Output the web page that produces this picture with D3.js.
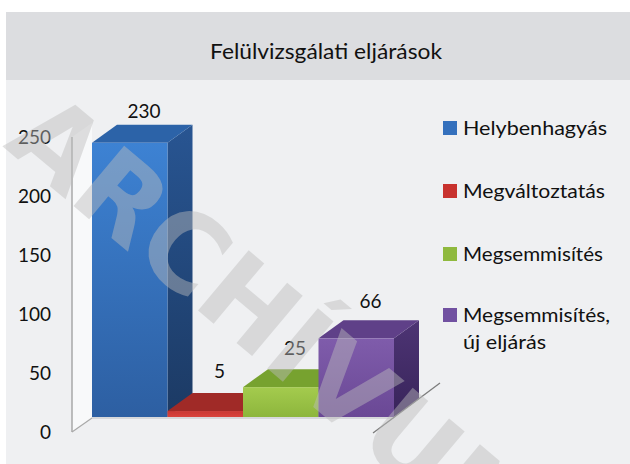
<!DOCTYPE html>
<html>
<head>
<meta charset="utf-8">
<script src="https://cdn.jsdelivr.net/npm/d3@7"></script>
<style>
  body { margin: 0; background: #fff; }
  svg { display: block; }
</style>
</head>
<body>
<svg id="chart" width="630" height="464"></svg>
<script>
// data
let categories = ["Helybenhagyás", "Megváltoztatás", "Megsemmisítés", "Megsemmisítés, új eljárás"];
let legendLines = [["Helybenhagyás"], ["Megváltoztatás"], ["Megsemmisítés"], ["Megsemmisítés,", "új eljárás"]];
let values = [230, 5, 25, 66];
let yTicks = [0, 50, 100, 150, 200, 250];
let chartTitle = "Felülvizsgálati eljárások";
let watermarkText = "ARCHÍVUM";

// face colours per bar: front top, front bottom, side top, side bottom, top face, legend
let palette = [
    {ft: "#3d82d3", fb: "#2d5fa2", st: "#285592", sb: "#1c3a64", tp: "#2c63a8", lg: "#3470bd"},
    {ft: "#c93733", fb: "#d9443e", st: "#8e2522", sb: "#7a1f1d", tp: "#a02a27", lg: "#c8322e"},
    {ft: "#a4cb4e", fb: "#8db63c", st: "#6c9329", sb: "#5b7d22", tp: "#77a22f", lg: "#8fb93e"},
    {ft: "#7f5cab", fb: "#6a4895", st: "#4d3474", sb: "#38245a", tp: "#5f4088", lg: "#7151a1"}
];

const svg = d3.select("#chart");
const width = 630, height = 464;
const fontFam = "Lato, 'Open Sans', sans-serif";

const depthX = 25, depthY = -18;

const xScale = d3.scaleBand().domain(categories).range([92, 394]).padding(0);
const yAxisScale = d3.scaleLinear().domain([0, 250]).range([432, 137]);
const yBarScale = d3.scaleLinear().domain([0, 250]).range([417, 119]);
// label baselines follow the perspective a bit differently from the bar faces
const yLabelScale = d3.scaleLinear().domain([0, 250]).range([384, 95]);

const defs = svg.append("defs");
palette.forEach((p, i) => {
    let g1 = defs.append("linearGradient").attr("id", "front" + i)
        .attr("x1", 0).attr("y1", 0).attr("x2", 0).attr("y2", 1);
    g1.append("stop").attr("offset", "0%").attr("stop-color", p.ft);
    g1.append("stop").attr("offset", "100%").attr("stop-color", p.fb);
    let g2 = defs.append("linearGradient").attr("id", "side" + i)
        .attr("x1", 0).attr("y1", 0).attr("x2", 0).attr("y2", 1);
    g2.append("stop").attr("offset", "0%").attr("stop-color", p.st);
    g2.append("stop").attr("offset", "100%").attr("stop-color", p.sb);
});

// backgrounds
svg.append("rect").attr("width", width).attr("height", height).attr("fill", "#ffffff");
svg.append("rect").attr("x", 6).attr("y", 12).attr("width", width - 6).attr("height", 68).attr("fill", "#dcdde0");
svg.append("rect").attr("x", 6).attr("y", 80).attr("width", width - 6).attr("height", height - 80).attr("fill", "#eff0f2");

svg.append("text")
    .attr("x", 326).attr("y", 59)
    .attr("text-anchor", "middle")
    .attr("font-family", fontFam)
    .attr("font-size", 22)
    .attr("fill", "#111")
    .attr("textLength", 232).attr("lengthAdjust", "spacingAndGlyphs")
    .text(chartTitle);

// left wall + axis
const x0 = xScale.range()[0];
const axisX = x0 - 20;
const pts = a => a.map(p => p.join(",")).join(" ");

svg.append("polygon")
    .attr("points", pts([[axisX, yAxisScale(250)], [x0, yAxisScale(250) - 14], [x0, yBarScale(0) + 1], [axisX, yAxisScale(0)]]))
    .attr("fill", "#f8f9fa");
svg.append("line")
    .attr("x1", axisX).attr("x2", axisX)
    .attr("y1", yAxisScale(250)).attr("y2", yAxisScale(0))
    .attr("stroke", "#a9a9a9").attr("stroke-width", 1.5);
svg.append("line")
    .attr("x1", axisX).attr("y1", yAxisScale(0))
    .attr("x2", x0).attr("y2", yBarScale(0) + 1)
    .attr("stroke", "#a9a9a9").attr("stroke-width", 1.2);

svg.selectAll(".tick-label")
    .data(yTicks)
    .join("text")
    .attr("class", "tick-label")
    .attr("x", 51)
    .attr("y", d => yAxisScale(d))
    .attr("dy", "0.36em")
    .attr("text-anchor", "end")
    .attr("font-family", fontFam)
    .attr("font-size", 19)
    .attr("fill", "#111")
    .text(d => d);

// bars (left to right so later bars hide earlier side faces)
const bw = xScale.bandwidth();
categories.forEach((c, i) => {
    let bx0 = xScale(c), bx1 = bx0 + bw;
    let yt = yBarScale(values[i]), yb = yBarScale(0);
    let g = svg.append("g");
    g.append("polygon")
        .attr("points", pts([[bx1, yt], [bx1 + depthX, yt + depthY], [bx1 + depthX, yb + depthY], [bx1, yb]]))
        .attr("fill", "url(#side" + i + ")");
    g.append("polygon")
        .attr("points", pts([[bx0, yt], [bx0 + depthX, yt + depthY], [bx1 + depthX, yt + depthY], [bx1, yt]]))
        .attr("fill", palette[i].tp);
    g.append("rect")
        .attr("x", bx0).attr("y", yt)
        .attr("width", bw).attr("height", yb - yt)
        .attr("fill", "url(#front" + i + ")");
});

// floor edge
svg.append("line")
    .attr("x1", x0).attr("x2", xScale.range()[1])
    .attr("y1", yBarScale(0) + 1).attr("y2", yBarScale(0) + 1)
    .attr("stroke", "#cfd0d3").attr("stroke-width", 1.5);
svg.append("line")
    .attr("x1", xScale.range()[1] - 21).attr("y1", yAxisScale(0) + 1)
    .attr("x2", xScale.range()[1] + 46).attr("y2", yAxisScale(0) - 49)
    .attr("stroke", "#7d7d7d").attr("stroke-width", 1.3);

// value labels
svg.selectAll(".value-label")
    .data(values)
    .join("text")
    .attr("class", "value-label")
    .attr("x", (d, i) => xScale(categories[i]) + 52)
    .attr("y", d => yLabelScale(d))
    .attr("text-anchor", "middle")
    .attr("font-family", fontFam)
    .attr("font-size", 19)
    .attr("fill", "#111")
    .text(d => d);

// legend
const legendY = [128, 191, 254, 315];
const legendWidths = [[144], [142], [140], [147, 83]];
const legend = svg.append("g");
legendLines.forEach((lines, i) => {
    legend.append("rect")
        .attr("x", 443).attr("y", legendY[i] - 7)
        .attr("width", 14).attr("height", 14)
        .attr("fill", palette[i].lg);
    lines.forEach((t, j) => {
        legend.append("text")
            .attr("x", 463).attr("y", legendY[i] + 7 + j * 27)
            .attr("font-family", fontFam)
            .attr("font-size", 20)
            .attr("fill", "#111")
            .attr("textLength", legendWidths[i][j]).attr("lengthAdjust", "spacingAndGlyphs")
            .text(t);
    });
});

// watermark
svg.append("text")
    .attr("transform", "translate(2,146) rotate(40)")
    .attr("font-family", "'DejaVu Sans', sans-serif")
    .attr("font-weight", "bold")
    .attr("font-size", 108)
    .attr("fill", "#bdbdbd")
    .attr("opacity", 0.45)
    .attr("pointer-events", "none")
    .text(watermarkText);
</script>
</body>
</html>
